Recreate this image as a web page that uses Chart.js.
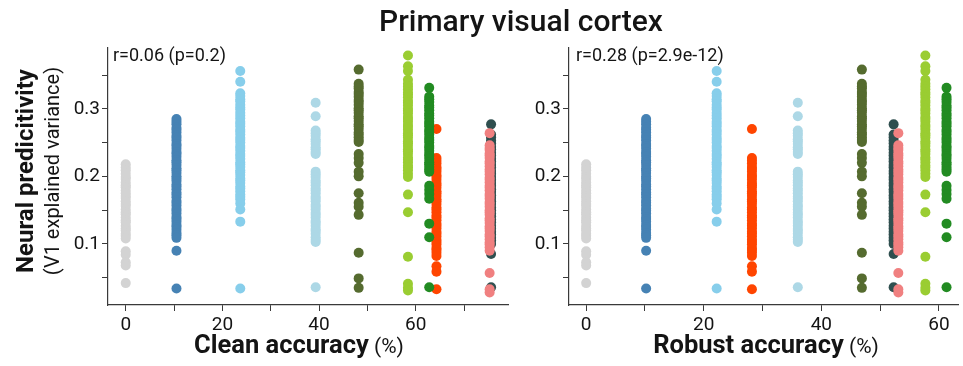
<!DOCTYPE html>
<html>
<head>
<meta charset="utf-8">
<script src="https://cdn.jsdelivr.net/npm/chart.js@4.4.1/dist/chart.umd.min.js"></script>
<style>
  html, body { margin: 0; padding: 0; background: #fff; }
  #wrap { position: relative; width: 963px; height: 366px; }
  #wrap canvas { position: absolute; left: 0; top: 0; }
</style>
</head>
<body>
<div id="wrap">
  <canvas id="clean-chart" width="963" height="366"></canvas>
  <canvas id="robust-chart" width="963" height="366"></canvas>
</div>
<script>
// one entry per model, same order everywhere
const modelColors = ['#d3d3d3', '#4682b4', '#87ceeb', '#add8e6', '#556b2f',
                     '#9acd32', '#228b22', '#ff4500', '#f08080', '#2f4f4f'];
const cleanAccuracy  = [0, 10.5, 23.7, 39.3, 48.2, 58.4, 62.8, 64.3, 75.3, 75.6];
const robustAccuracy = [0, 10.2, 22.2, 36.0, 46.9, 57.7, 61.3, 28.2, 53.1, 52.3];

// neural predictivity (V1 explained variance) of each layer, per model
const predGray = [0.218, 0.213, 0.209, 0.204, 0.199, 0.196, 0.191, 0.187, 0.184, 0.179, 0.175, 0.171,
  0.168, 0.163, 0.159, 0.156, 0.151, 0.147, 0.144, 0.139, 0.135, 0.132, 0.127, 0.123, 0.120, 0.115,
  0.112, 0.108, 0.089, 0.084, 0.073, 0.068, 0.042];
const predSteel = [0.285, 0.281, 0.277, 0.272, 0.269, 0.265, 0.260, 0.257, 0.253, 0.248, 0.245, 0.241,
  0.236, 0.233, 0.229, 0.224, 0.221, 0.217, 0.212, 0.209, 0.205, 0.200, 0.197, 0.193, 0.188, 0.185,
  0.181, 0.176, 0.173, 0.169, 0.164, 0.161, 0.157, 0.152, 0.149, 0.145, 0.140, 0.137, 0.133, 0.128,
  0.125, 0.121, 0.116, 0.113, 0.109, 0.090, 0.034];
const predSky = [0.356, 0.340, 0.323, 0.319, 0.314, 0.311, 0.306, 0.302, 0.299, 0.294, 0.290, 0.286,
  0.281, 0.278, 0.274, 0.269, 0.266, 0.262, 0.257, 0.254, 0.250, 0.245, 0.242, 0.238, 0.233, 0.230,
  0.226, 0.221, 0.218, 0.214, 0.209, 0.206, 0.202, 0.197, 0.194, 0.190, 0.185, 0.182, 0.178, 0.173,
  0.170, 0.166, 0.160, 0.151, 0.133, 0.034];
const predLight = [0.309, 0.289, 0.268, 0.264, 0.260, 0.255, 0.252, 0.248, 0.243, 0.240, 0.236, 0.233,
  0.207, 0.203, 0.199, 0.194, 0.191, 0.187, 0.182, 0.179, 0.175, 0.170, 0.167, 0.163, 0.158, 0.155,
  0.151, 0.146, 0.143, 0.139, 0.134, 0.131, 0.127, 0.122, 0.119, 0.115, 0.110, 0.106, 0.103, 0.036];
const predOlive = [0.358, 0.337, 0.333, 0.330, 0.325, 0.322, 0.318, 0.313, 0.310, 0.306, 0.301, 0.298,
  0.294, 0.289, 0.286, 0.282, 0.277, 0.274, 0.270, 0.265, 0.262, 0.258, 0.254, 0.251, 0.233, 0.227,
  0.220, 0.207, 0.200, 0.175, 0.161, 0.155, 0.143, 0.087, 0.049, 0.035];
const predYellow = [0.379, 0.363, 0.356, 0.343, 0.337, 0.333, 0.329, 0.324, 0.321, 0.317, 0.312, 0.309,
  0.305, 0.300, 0.297, 0.293, 0.288, 0.285, 0.281, 0.276, 0.273, 0.269, 0.264, 0.261, 0.257, 0.252,
  0.249, 0.245, 0.240, 0.237, 0.233, 0.228, 0.225, 0.221, 0.216, 0.213, 0.209, 0.204, 0.199, 0.173,
  0.147, 0.081, 0.041, 0.035, 0.031];
const predForest = [0.331, 0.318, 0.314, 0.310, 0.305, 0.302, 0.298, 0.293, 0.290, 0.286, 0.281, 0.278,
  0.274, 0.269, 0.266, 0.262, 0.257, 0.254, 0.250, 0.245, 0.242, 0.238, 0.233, 0.230, 0.226, 0.221,
  0.218, 0.214, 0.210, 0.207, 0.186, 0.180, 0.174, 0.167, 0.130, 0.110, 0.036];
const predOrange = [0.270, 0.227, 0.223, 0.219, 0.214, 0.211, 0.207, 0.202, 0.199, 0.195, 0.190, 0.187,
  0.183, 0.178, 0.175, 0.171, 0.166, 0.163, 0.159, 0.154, 0.151, 0.147, 0.142, 0.139, 0.135, 0.130,
  0.127, 0.123, 0.118, 0.115, 0.111, 0.106, 0.103, 0.099, 0.094, 0.091, 0.087, 0.082, 0.067, 0.059, 0.033];
const predCoral = [0.264, 0.246, 0.242, 0.239, 0.234, 0.231, 0.227, 0.222, 0.219, 0.215, 0.210, 0.207,
  0.203, 0.198, 0.195, 0.191, 0.186, 0.183, 0.179, 0.174, 0.171, 0.167, 0.162, 0.159, 0.155, 0.150,
  0.147, 0.143, 0.138, 0.135, 0.131, 0.126, 0.123, 0.119, 0.114, 0.111, 0.107, 0.102, 0.099, 0.095,
  0.090, 0.057, 0.033, 0.028];
const predSlate = [0.277, 0.262, 0.258, 0.253, 0.249, 0.244, 0.240, 0.235, 0.231, 0.226, 0.222, 0.217,
  0.213, 0.208, 0.204, 0.199, 0.195, 0.190, 0.186, 0.181, 0.177, 0.172, 0.168, 0.163, 0.159, 0.154,
  0.150, 0.145, 0.141, 0.136, 0.132, 0.127, 0.123, 0.118, 0.114, 0.109, 0.105, 0.100, 0.085, 0.036];
const predictivity = [predGray, predSteel, predSky, predLight, predOlive,
                      predYellow, predForest, predOrange, predCoral, predSlate];

// ticks
const yTickValues = [0.05, 0.1, 0.15, 0.2, 0.25, 0.3, 0.35];
const yTickLabels = ['', '0.1', '', '0.2', '', '0.3', ''];
const cleanTickValues = [0, 10, 20, 30, 40, 50, 60, 70];
const cleanTickLabels = ['0', '', '20', '', '40', '', '60', ''];
const robustTickValues = [0, 10, 20, 30, 40, 50, 60];
const robustTickLabels = ['0', '', '20', '', '40', '', '60'];

const axisColor = '#3a3a3a';
const textColor = '#141414';

const panelText = {
  id: 'panelText',
  afterDraw(chart, args, o) {
    const ctx = chart.ctx;
    ctx.save();
    ctx.fillStyle = textColor;
    ctx.textBaseline = 'alphabetic';
    if (o.title) {
      ctx.font = '500 30px Roboto';
      ctx.textAlign = 'center';
      ctx.fillText(o.title, 521, 31);
    }
    if (o.yTitle) {
      ctx.save();
      ctx.translate(33, 171);
      ctx.rotate(-Math.PI / 2);
      ctx.textAlign = 'center';
      ctx.font = 'bold 24px Roboto';
      ctx.fillText(o.yTitle, 0, 0);
      ctx.font = '20px Roboto';
      ctx.fillText(o.ySub, 0, 26);
      ctx.restore();
    }
    // x title: bold part + regular unit
    ctx.textAlign = 'left';
    ctx.font = 'bold 25.5px Roboto';
    const w1 = ctx.measureText(o.xTitle).width;
    ctx.font = '21px Roboto';
    const w2 = ctx.measureText(o.xUnit).width;
    let x = o.xTitleCenter - (w1 + w2) / 2;
    ctx.font = 'bold 25.5px Roboto';
    ctx.fillText(o.xTitle, x, 353);
    ctx.font = '21px Roboto';
    ctx.fillText(o.xUnit, x + w1, 353);
    // correlation note
    ctx.font = '18px Roboto';
    ctx.fillText(o.note, o.noteX, 61);
    ctx.restore();
  }
};

function makeDatasets(xs) {
  return predictivity.map((ys, i) => ({
    data: ys.map(y => ({ x: xs[i], y: y })),
    backgroundColor: modelColors[i],
    borderWidth: 0,
    pointRadius: 5,
    pointHoverRadius: 5
  }));
}

function makeChart(canvasId, xs, xMin, xMax, xTicks, xLabels, yWidth, padRight, text) {
  return new Chart(document.getElementById(canvasId).getContext('2d'), {
    type: 'scatter',
    data: { datasets: makeDatasets(xs) },
    options: {
      responsive: false,
      animation: false,
      events: [],
      layout: { padding: { left: 0, right: padRight, top: 48, bottom: 0 } },
      plugins: { legend: { display: false }, tooltip: { enabled: false }, panelText: text },
      scales: {
        x: {
          type: 'linear', min: xMin, max: xMax,
          afterFit: s => { s.height = 61; },
          afterBuildTicks: s => { s.ticks = xTicks.map(v => ({ value: v })); },
          ticks: {
            autoSkip: false, maxRotation: 0, padding: 3,
            font: { family: 'Roboto', size: 19 }, color: textColor,
            callback: v => xLabels[xTicks.indexOf(v)]
          },
          grid: { drawOnChartArea: false, drawTicks: true, tickLength: 6, color: axisColor, lineWidth: 1 },
          border: { display: true, color: axisColor, width: 1.2 }
        },
        y: {
          type: 'linear', min: 0.0096, max: 0.39,
          afterFit: s => { s.width = yWidth; },
          afterBuildTicks: s => { s.ticks = yTickValues.map(v => ({ value: v })); },
          ticks: {
            autoSkip: false, padding: 2,
            font: { family: 'Roboto', size: 19 }, color: textColor,
            callback: v => yTickLabels[yTickValues.indexOf(v)]
          },
          grid: { drawOnChartArea: false, drawTicks: true, tickLength: 6, color: axisColor, lineWidth: 1 },
          border: { display: true, color: axisColor, width: 1.2 }
        }
      }
    },
    plugins: [panelText]
  });
}

makeChart('clean-chart', cleanAccuracy, -3.67, 79.1, cleanTickValues, cleanTickLabels, 108, 455, {
  title: 'Primary visual cortex',
  yTitle: 'Neural predicitivity', ySub: '(V1 explained variance)',
  xTitle: 'Clean accuracy', xUnit: ' (%)', xTitleCenter: 299,
  note: 'r=0.06 (p=0.2)', noteX: 113
});
makeChart('robust-chart', robustAccuracy, -2.92, 63.25, robustTickValues, robustTickLabels, 569, 0, {
  xTitle: 'Robust accuracy', xUnit: ' (%)', xTitleCenter: 766,
  note: 'r=0.28 (p=2.9e-12)', noteX: 576
});
</script>
</body>
</html>
